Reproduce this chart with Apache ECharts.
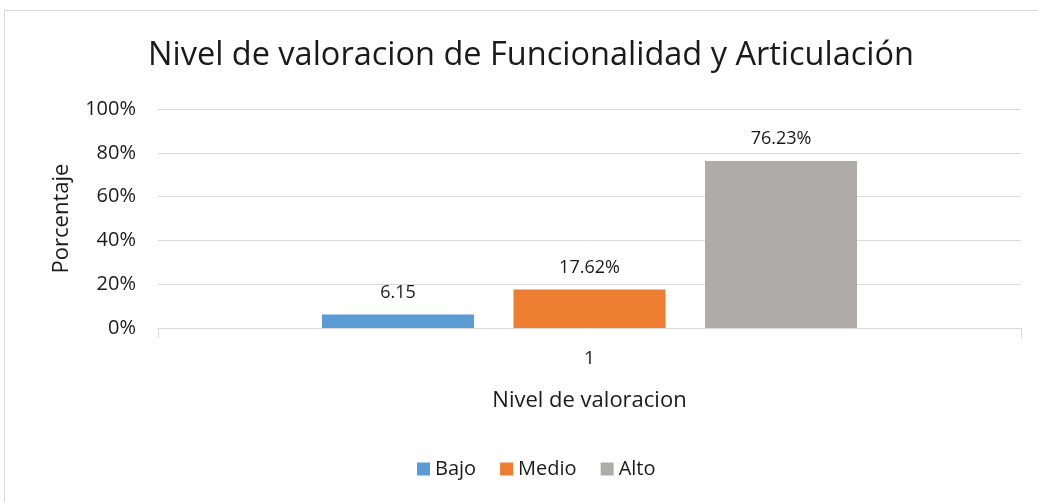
<!DOCTYPE html>
<html>
<head>
<meta charset="utf-8">
<script src="https://cdn.jsdelivr.net/npm/echarts@6/dist/echarts.min.js"></script>
<style>
  html, body { margin: 0; padding: 0; background: #fff; }
  #chart { width: 1038px; height: 502px; }
</style>
</head>
<body>
<div id="chart"></div>
<script>
// Data
const categories = ['1'];
const seriesNames = ['Bajo', 'Medio', 'Alto'];
const seriesValues = [6.15, 17.62, 76.23];
const seriesLabels = ['6.15', '17.62%', '76.23%'];
const yTicks = [0, 20, 40, 60, 80, 100];

const colors = ['#5B9BD5', '#ED7D31', '#AFABAB'];
const FONT = '"Open Sans", "Noto Sans", sans-serif';
const TEXT = '#1a1a1a';

const chart = echarts.init(document.getElementById('chart'), null, { renderer: 'canvas' });

const series = seriesNames.map((name, i) => ({
  name: name,
  type: 'bar',
  data: [seriesValues[i]],
  itemStyle: { color: colors[i] },
  barGap: '26%',
  barCategoryGap: '38%',
  label: {
    show: true,
    position: 'top',
    distance: 13,
    formatter: () => seriesLabels[i],
    color: TEXT,
    fontFamily: FONT,
    fontSize: 18
  }
}));

chart.setOption({
  animation: false,
  backgroundColor: '#fff',
  graphic: [{
    type: 'rect',
    shape: { x: 4.5, y: 10.5, width: 1040, height: 500 },
    style: { fill: 'none', stroke: '#d9d9d9', lineWidth: 1 },
    silent: true
  }],
  title: {
    text: 'Nivel de valoracion de Funcionalidad y Articulación',
    left: 526,
    textAlign: 'center',
    top: 34,
    textStyle: { fontFamily: FONT, fontSize: 32.5, fontWeight: 'normal', color: TEXT }
  },
  legend: {
    data: seriesNames,
    bottom: 18,
    left: 412,
    itemWidth: 13,
    itemHeight: 13,
    itemGap: 24,
    icon: 'rect',
    textStyle: { fontFamily: FONT, fontSize: 20, color: TEXT }
  },
  grid: { left: 158, right: 17, top: 109, bottom: 174, containLabel: false },
  xAxis: {
    type: 'category',
    data: categories,
    name: 'Nivel de valoracion',
    nameLocation: 'middle',
    nameGap: 62,
    nameTextStyle: { fontFamily: FONT, fontSize: 22, color: TEXT },
    axisLine: { lineStyle: { color: '#d9d9d9', width: 1 } },
    axisTick: { show: true, length: 10, lineStyle: { color: '#d9d9d9' } },
    axisLabel: { fontFamily: FONT, fontSize: 19, color: TEXT, margin: 21 }
  },
  yAxis: {
    type: 'value',
    min: yTicks[0],
    max: yTicks[yTicks.length - 1],
    interval: yTicks[1] - yTicks[0],
    name: 'Porcentaje',
    nameLocation: 'middle',
    nameGap: 85,
    nameRotate: 90,
    nameTextStyle: { fontFamily: FONT, fontSize: 22, color: TEXT },
    axisLine: { show: false },
    axisTick: { show: false },
    splitLine: { lineStyle: { color: '#d9d9d9', width: 1 } },
    axisLabel: {
      fontFamily: FONT, fontSize: 20, color: TEXT, margin: 22,
      formatter: '{value}%'
    }
  },
  series: series
});
</script>
</body>
</html>
